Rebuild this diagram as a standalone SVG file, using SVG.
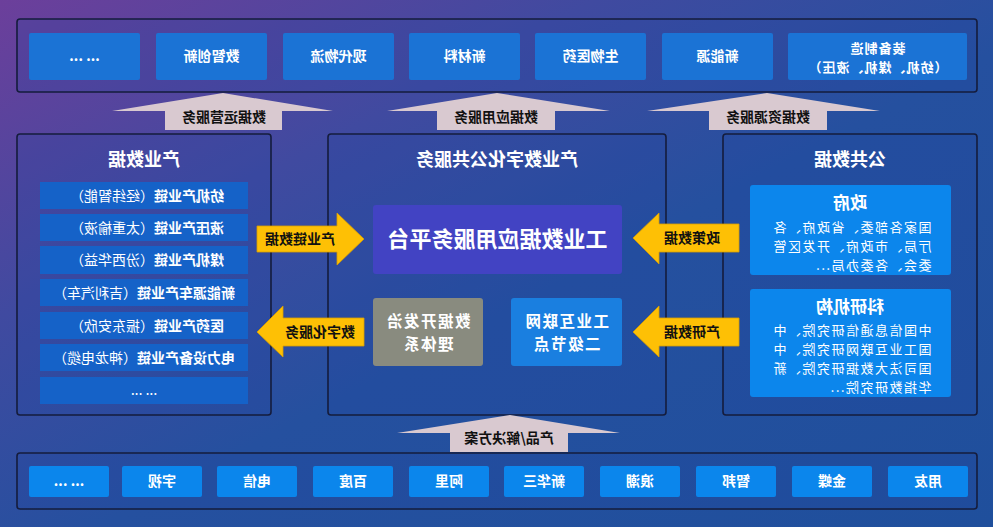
<svg xmlns="http://www.w3.org/2000/svg" width="993" height="527" viewBox="0 0 993 527">
<defs>
<linearGradient id="bg" x1="0" y1="0" x2="1" y2="1">
<stop offset="0" stop-color="#6c3f9b"/>
<stop offset="0.3" stop-color="#404aa0"/>
<stop offset="0.55" stop-color="#25509f"/>
<stop offset="1" stop-color="#1f4f9c"/>
</linearGradient>
<style>
text{font-family:"Noto Sans CJK SC","Noto Sans",sans-serif;fill:#fff;text-anchor:middle}
.m{transform-box:fill-box;transform-origin:center;transform:scaleX(-1)}
.panel{fill:rgba(30,70,160,0.22);stroke:#151c3c;stroke-width:1.6}
.tb{fill:#1b73d5}
.bb{fill:#0b86ec}
.li{fill:#1562c8}
.gv{fill:#0c86ec}
.ga{fill:#d9c9d0}
.ya{fill:#fec005;stroke:#d9a000;stroke-width:0.8}
.t14{font-size:14px;font-weight:700}
.t13{font-size:13px;font-weight:700;letter-spacing:1px}
.ttl{font-size:18px;font-weight:700}
.lab{font-size:14px;font-weight:700;fill:#111}
.li-t{font-size:14px}
.body{font-size:13px;letter-spacing:1.5px;text-anchor:start}
.two{font-size:15.5px;font-weight:700;letter-spacing:1.5px}
</style>
</defs>
<rect width="993" height="527" fill="url(#bg)"/>

<g id="top-panel">
<rect class="panel" x="17" y="19" width="960" height="73" rx="3"/>
<g id="t-more"><rect class="tb" x="29" y="33" width="111" height="47" rx="2"/><text class="t14 m" x="84.5" y="61">... ...</text></g>
<g id="t-szcx"><rect class="tb" x="156" y="33" width="111" height="47" rx="2"/><text class="t14 m" x="211.5" y="61">数智创新</text></g>
<g id="t-xdwl"><rect class="tb" x="283" y="33" width="111" height="47" rx="2"/><text class="t14 m" x="338.5" y="61">现代物流</text></g>
<g id="t-xcl"><rect class="tb" x="409" y="33" width="111" height="47" rx="2"/><text class="t14 m" x="464.5" y="61">新材料</text></g>
<g id="t-swyy"><rect class="tb" x="535" y="33" width="111" height="47" rx="2"/><text class="t14 m" x="590.5" y="61">生物医药</text></g>
<g id="t-xny"><rect class="tb" x="662" y="33" width="111" height="47" rx="2"/><text class="t14 m" x="717.5" y="61">新能源</text></g>
<g id="t-zbzz"><rect class="tb" x="788" y="33" width="179" height="47" rx="2"/><text class="t13 m" x="877.5" y="53"><tspan x="877.5">装备制造</tspan><tspan x="877.5" dy="19">（纺机、煤机、液压）</tspan></text></g>
</g>

<g id="left-panel">
<rect class="panel" x="17" y="134" width="254" height="281" rx="3"/>
<text class="ttl m" x="144" y="166">产业数据</text>
<g id="l1"><rect class="li" x="40" y="182" width="208" height="27"/><text class="li-t m" x="147" y="200.5"><tspan font-weight="700">纺机产业链</tspan>（经纬智能）</text></g>
<g id="l2"><rect class="li" x="40" y="214" width="208" height="27"/><text class="li-t m" x="147" y="232.5"><tspan font-weight="700">液压产业链</tspan>（太重榆液）</text></g>
<g id="l3"><rect class="li" x="40" y="246" width="208" height="28"/><text class="li-t m" x="147" y="265"><tspan font-weight="700">煤机产业链</tspan>（汾西华益）</text></g>
<g id="l4"><rect class="li" x="40" y="279" width="208" height="27"/><text class="li-t m" x="144" y="297.5"><tspan font-weight="700">新能源车产业链</tspan>（吉利汽车）</text></g>
<g id="l5"><rect class="li" x="40" y="312" width="208" height="27"/><text class="li-t m" x="147" y="330.5"><tspan font-weight="700">医药产业链</tspan>（振东安欣）</text></g>
<g id="l6"><rect class="li" x="40" y="344" width="208" height="27"/><text class="li-t m" x="144" y="362.5"><tspan font-weight="700">电力设备产业链</tspan>（神龙电缆）</text></g>
<g id="l7"><rect class="li" x="40" y="377" width="208" height="27"/><text class="li-t m" x="144" y="395">... ...</text></g>
</g>

<g id="center-panel">
<rect class="panel" x="328" y="134" width="338" height="281" rx="3"/>
<text class="ttl m" x="497" y="166">产业数字化公共服务</text>
<g id="platform"><rect x="373" y="205" width="249" height="69" rx="3" fill="#4243c3"/><text class="m" x="497.5" y="247" font-size="22" font-weight="700">工业数据应用服务平台</text></g>
<g id="governance"><rect x="373" y="298" width="110" height="68" rx="3" fill="#898b7f"/><text class="two m" x="428" y="327"><tspan x="428">数据开发治</tspan><tspan x="428" dy="22.6">理体系</tspan></text></g>
<g id="node2"><rect x="511" y="298" width="111" height="68" rx="3" fill="#1a7fe0"/><text class="two m" x="566.5" y="327"><tspan x="566.5">工业互联网</tspan><tspan x="566.5" dy="22.6">二级节点</tspan></text></g>
</g>

<g id="right-panel">
<rect class="panel" x="723" y="134" width="254" height="281" rx="3"/>
<text class="ttl m" x="850" y="166">公共数据</text>
<g id="gov"><rect class="gv" x="750" y="185" width="201" height="90" rx="3"/>
<text class="m" x="850" y="209" font-size="17" font-weight="700">政府</text>
<text class="body m" x="772" y="231.5"><tspan x="772">国家各部委、省政府、各</tspan><tspan x="772" dy="19">厅局、市政府、开发区管</tspan><tspan x="772" dy="19">委会、各委办局...</tspan></text>
</g>
<g id="research"><rect class="gv" x="750" y="289" width="201" height="108" rx="3"/>
<text class="m" x="850" y="313" font-size="17" font-weight="700">科研机构</text>
<text class="body m" x="772" y="334.5"><tspan x="772">中国信息通信研究院、中</tspan><tspan x="772" dy="19">国工业互联网研究院、中</tspan><tspan x="772" dy="19">国司法大数据研究院、新</tspan><tspan x="772" dy="19">华指数研究院...</tspan></text>
</g>
</g>

<g id="bottom-panel">
<rect class="panel" x="17" y="453" width="960" height="56" rx="3"/>
<g id="b-more"><rect class="bb" x="29" y="466" width="80" height="31" rx="2"/><text class="t14 m" x="69" y="486">... ...</text></g>
<g id="b-ys"><rect class="bb" x="122" y="466" width="80" height="31" rx="2"/><text class="t14 m" x="162" y="486">宇视</text></g>
<g id="b-dx"><rect class="bb" x="217" y="466" width="80" height="31" rx="2"/><text class="t14 m" x="257" y="486">电信</text></g>
<g id="b-bd"><rect class="bb" x="313" y="466" width="80" height="31" rx="2"/><text class="t14 m" x="353" y="486">百度</text></g>
<g id="b-al"><rect class="bb" x="409" y="466" width="80" height="31" rx="2"/><text class="t14 m" x="449" y="486">阿里</text></g>
<g id="b-xhs"><rect class="bb" x="504" y="466" width="80" height="31" rx="2"/><text class="t14 m" x="544" y="486">新华三</text></g>
<g id="b-lc"><rect class="bb" x="600" y="466" width="80" height="31" rx="2"/><text class="t14 m" x="640" y="486">浪潮</text></g>
<g id="b-zb"><rect class="bb" x="696" y="466" width="80" height="31" rx="2"/><text class="t14 m" x="736" y="486">智邦</text></g>
<g id="b-jd"><rect class="bb" x="792" y="466" width="80" height="31" rx="2"/><text class="t14 m" x="832" y="486">金蝶</text></g>
<g id="b-yy"><rect class="bb" x="888" y="466" width="80" height="31" rx="2"/><text class="t14 m" x="928" y="486">用友</text></g>
</g>

<g id="connectors">
<g id="a-yy"><polygon class="ga" points="112,111 223,93 333,111 282,111 282,130 165,130 165,111"/><text class="lab m" x="224" y="122">数据运营服务</text></g>
<g id="a-yong"><polygon class="ga" points="387,111 497,93 610,111 555,111 555,130 437,130 437,111"/><text class="lab m" x="496" y="122">数据应用服务</text></g>
<g id="a-zy"><polygon class="ga" points="647,111 767,93 880,111 827,111 827,130 709,130 709,111"/><text class="lab m" x="768" y="122">数据资源服务</text></g>
<g id="a-cp"><polygon class="ga" points="397,433 510,415 620,433 568,433 568,452 450,452 450,433"/><text class="lab m" x="509" y="443">产品/解决方案</text></g>
<g id="y-cyl"><polygon class="ya" points="257,226 337,226 337,213 364,239 337,265 337,252 257,252"/><text class="lab m" x="300" y="244">产业链数据</text></g>
<g id="y-szh"><polygon class="ya" points="257,332 283,306 283,318 364,318 364,346 283,346 283,357"/><text class="lab m" x="320" y="337">数字化服务</text></g>
<g id="y-zc"><polygon class="ya" points="633,238 659,213 659,224 739,224 739,252 659,252 659,264"/><text class="lab m" x="692" y="243">政策数据</text></g>
<g id="y-cy"><polygon class="ya" points="633,332 659,306 659,318 739,318 739,346 659,346 659,357"/><text class="lab m" x="692" y="337">产研数据</text></g>
</g>
</svg>
